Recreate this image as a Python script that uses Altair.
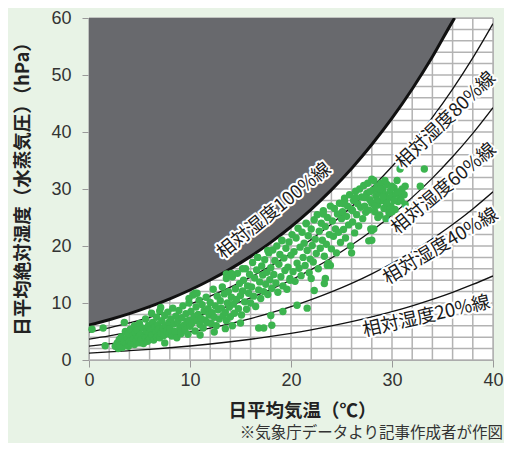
import altair as alt
import pandas as pd

# ---- curves (saturation vapour pressure and relative-humidity lines) ----
curve_t = [0, 2, 4, 6, 8, 10, 12, 14, 16, 18, 20, 22, 24, 26, 28, 30, 32, 34, 36, 38, 40]
rh80 = [4.89, 5.65, 6.50, 7.48, 8.58, 9.82, 11.22, 12.79, 14.55, 16.51, 18.70, 21.15, 23.87, 26.89, 30.24, 33.94, 38.04, 42.55, 47.53, 53.00, 59.01]
rh60 = [3.67, 4.24, 4.88, 5.61, 6.44, 7.37, 8.42, 9.59, 10.91, 12.38, 14.03, 15.86, 17.90, 20.17, 22.68, 25.45, 28.53, 31.91, 35.65, 39.75, 44.26]
rh40 = [2.44, 2.82, 3.25, 3.74, 4.29, 4.91, 5.61, 6.40, 7.27, 8.26, 9.35, 10.58, 11.94, 13.44, 15.12, 16.97, 19.02, 21.28, 23.76, 26.50, 29.50]
rh20 = [1.22, 1.41, 1.63, 1.87, 2.15, 2.46, 2.81, 3.20, 3.64, 4.13, 4.68, 5.29, 5.97, 6.72, 7.56, 8.48, 9.51, 10.64, 11.88, 13.25, 14.75]
sat_t = [0, 2, 4, 6, 8, 10, 12, 14, 16, 18, 20, 22, 24, 26, 28, 30, 32, 34, 36, 36.2]
sat_e = [6.11, 7.06, 8.13, 9.35, 10.73, 12.28, 14.03, 15.99, 18.18, 20.64, 23.38, 26.44, 29.84, 33.61, 37.80, 42.42, 47.55, 53.19, 59.41, 60.0]

obs_t = [
    0.3, 1.4, 1.6,
    2.6, 2.8, 2.9, 3.0, 3.1, 3.2, 3.3, 3.5, 3.5, 3.6, 3.7, 3.8, 3.9, 3.9,
    4.0, 4.1, 4.2, 4.3, 4.4, 4.5, 4.5, 4.6, 4.7, 4.8, 4.9, 5.0, 5.0, 5.1, 5.2, 5.3, 5.4, 5.5, 5.6, 5.6, 5.7, 5.8, 5.9, 5.9,
    6.0, 6.1, 6.2, 6.2, 6.3, 6.4, 6.5, 6.6, 6.7, 6.7, 6.8, 6.9, 7.0, 7.0, 7.1, 7.2, 7.3, 7.4, 7.5, 7.5, 7.6, 7.7, 7.8, 7.9, 7.9, 7.1,
    8.0, 8.1, 8.2, 8.3, 8.4, 8.5, 8.6, 8.7, 8.8, 8.9, 9.0, 9.1, 9.2, 9.3, 9.4, 9.5, 9.6, 9.7, 9.8, 9.9, 9.9, 9.9,
    10.0, 10.1, 10.2, 10.3, 10.4, 10.5, 10.6, 10.7, 10.8, 10.9, 11.0, 11.1, 11.2, 11.3, 11.4, 11.5, 11.6, 11.7, 11.8, 11.9, 10.7, 11.0, 10.5,
    12.0, 12.1, 12.2, 12.3, 12.4, 12.5, 12.6, 12.7, 12.8, 12.9, 13.0, 13.1, 13.2, 13.3, 13.4, 13.5, 13.6, 13.7, 13.8, 13.9, 12.4, 13.5, 13.6, 13.6,
    14.0, 14.1, 14.2, 14.3, 14.4, 14.5, 14.6, 14.7, 14.8, 14.9, 15.0, 15.1, 15.2, 15.3, 15.4, 15.5, 15.6, 15.7, 15.8, 15.9, 14.1, 15.2, 14.2, 15.0,
    16.0, 16.1, 16.2, 16.3, 16.4, 16.5, 16.6, 16.7, 16.8, 16.9, 17.0, 17.1, 17.2, 17.3, 17.4, 17.5, 17.6, 17.7, 17.8, 17.9, 16.7, 16.8, 17.3, 17.7,
    18.0, 18.1, 18.2, 18.3, 18.4, 18.5, 18.6, 18.7, 18.8, 18.9, 19.0, 19.1, 19.2, 19.3, 19.4, 19.5, 19.6, 19.7, 19.8, 19.9, 18.1, 19.1, 19.2, 18.0, 19.9,
    20.0, 20.1, 20.2, 20.3, 20.4, 20.5, 20.6, 20.7, 20.8, 20.9, 21.0, 21.1, 21.2, 21.3, 21.4, 21.5, 21.6, 21.7, 21.8, 21.9, 20.6, 21.6, 21.5, 22.0,
    22.0, 22.1, 22.2, 22.3, 22.4, 22.5, 22.6, 22.7, 22.8, 22.9, 23.0, 23.1, 23.2, 23.3, 23.4, 23.5, 23.6, 23.7, 23.8, 23.9, 23.2, 22.3, 23.9, 23.4, 23.6, 23.3,
    24.0, 24.1, 24.2, 24.3, 24.4, 24.5, 24.6, 24.7, 24.8, 24.9, 25.0, 25.1, 25.2, 25.3, 25.4, 25.5, 25.6, 25.7, 25.8, 25.9, 25.3, 25.2, 26.0,
    26.0, 26.1, 26.2, 26.3, 26.4, 26.5, 26.6, 26.7, 26.8, 26.9, 27.0, 27.1, 27.2, 27.3, 27.4, 27.5, 27.6, 27.7, 27.8, 27.9, 26.1, 26.4, 27.7, 28.0, 28.0,
    28.0, 28.1, 28.2, 28.3, 28.4, 28.5, 28.6, 28.7, 28.8, 28.9, 29.0, 29.1, 29.2, 29.3, 29.4, 29.5, 29.6, 29.7, 29.8, 29.9,
    30.0, 30.2, 30.3, 30.4, 30.6, 30.8, 31.0, 31.3, 28.2, 28.0, 30.5, 31.2,
    28.5, 29.0, 29.5, 30.0, 28.8, 29.3, 30.2, 30.6, 29.8, 28.3, 27.8, 27.3, 29.1, 30.9, 31.3, 30.0, 29.4, 28.6,
    30.8, 33.2, 32.8,
]
obs_e = [
    5.4, 5.6, 2.5,
    2.4, 3.0, 2.0, 3.6, 2.6, 4.1, 2.2, 6.6, 3.2, 5.0, 2.8, 3.9, 4.6, 2.4,
    3.3, 5.4, 2.9, 4.2, 3.7, 6.0, 2.7, 4.8, 3.4, 5.2, 4.0, 3.0, 6.4, 4.5, 3.6, 5.6, 2.9, 4.2, 7.2, 3.9, 5.0, 3.3, 6.1, 4.6,
    3.7, 5.3, 8.2, 4.4, 6.6, 3.5, 5.8, 4.9, 7.5, 4.0, 6.2, 5.4, 3.9, 8.6, 4.7, 6.9, 5.6, 4.3, 7.8, 3.0, 6.0, 5.1, 8.4, 4.6, 6.6, 9.2,
    5.5, 7.2, 4.2, 9.1, 6.3, 5.0, 7.7, 3.9, 6.8, 8.7, 5.7, 4.6, 7.4, 9.5, 6.1, 5.2, 8.1, 6.7, 4.5, 7.0, 10.0, 10.8,
    5.9, 8.5, 6.5, 11.4, 7.6, 5.1, 9.3, 6.9, 8.0, 10.5, 6.2, 7.3, 9.7, 5.6, 8.6, 7.0, 11.0, 6.6, 9.0, 7.9, 11.7, 4.4, 11.7,
    10.1, 6.4, 8.3, 12.4, 7.5, 9.5, 6.0, 11.2, 8.8, 7.2, 10.4, 9.1, 12.8, 7.8, 11.6, 8.4, 6.9, 10.0, 12.0, 9.3, 4.9, 5.5, 14.3, 15.1,
    7.6, 11.0, 14.6, 9.8, 8.2, 12.5, 10.6, 15.2, 9.0, 13.4, 11.3, 7.9, 12.1, 14.0, 10.2, 16.0, 8.9, 13.0, 11.7, 15.0, 15.2, 16.0, 6.0, 6.5,
    10.0, 12.8, 17.1, 11.2, 14.4, 9.4, 15.8, 18.0, 12.3, 13.7, 10.8, 16.5, 14.9, 12.0, 17.6, 13.3, 15.4, 11.5, 18.8, 14.1, 18.0, 5.6, 5.6, 19.2,
    16.2, 12.6, 19.3, 15.0, 17.4, 13.5, 20.0, 11.9, 16.8, 18.5, 14.6, 21.0, 13.0, 17.9, 15.7, 19.6, 12.4, 16.3, 20.7, 14.3, 6.1, 20.9, 8.5, 7.8, 14.0,
    18.4, 22.0, 15.5, 19.0, 13.8, 21.4, 17.0, 23.1, 16.1, 19.8, 14.8, 22.4, 18.0, 20.5, 16.6, 24.0, 19.2, 21.8, 15.3, 17.7, 9.6, 9.1, 23.9, 14.3,
    23.0, 20.1, 17.2, 24.6, 21.2, 18.7, 25.5, 16.0, 22.6, 19.6, 24.0, 21.0, 26.2, 18.2, 23.4, 20.3, 25.0, 17.0, 22.0, 27.0, 25.6, 12.2, 16.6, 14.3, 16.6, 13.4,
    19.5, 24.4, 21.7, 26.6, 23.0, 18.8, 25.6, 22.4, 27.5, 20.6, 24.8, 26.0, 22.9, 28.4, 21.4, 25.2, 27.0, 23.7, 29.0, 20.0, 27.9, 27.4, 18.8,
    26.4, 24.2, 28.0, 22.3, 29.6, 25.5, 27.4, 23.5, 30.0, 26.8, 28.6, 24.8, 30.6, 27.0, 25.9, 29.2, 31.0, 26.3, 28.1, 23.0, 26.2, 28.5, 20.9, 22.7, 31.7,
    27.5, 29.8, 31.5, 26.0, 28.8, 30.4, 27.2, 29.3, 25.4, 31.0, 28.0, 30.0, 26.6, 29.0, 27.6, 30.8, 28.4, 25.8, 29.6, 27.0,
    28.8, 30.2, 26.4, 29.1, 27.8, 28.5, 30.0, 27.3, 23.0, 21.0, 31.5, 29.0,
    28.0, 29.5, 27.5, 30.5, 30.0, 31.5, 28.0, 29.5, 26.5, 27.0, 29.5, 28.5, 28.6, 28.0, 30.5, 26.0, 24.8, 25.0,
    33.5, 33.5, 30.5,
]

grid_x = list(range(0, 41, 2))
grid_y = list(range(0, 61, 2))

label_text = ["相対湿度100%線", "相対湿度80%線", "相対湿度60%線", "相対湿度40%線", "相対湿度20%線"]
label_t = [18.3, 35.3, 35.1, 34.8, 33.4]
label_e = [26.2, 42.1, 30.1, 20.0, 7.7]
label_angle = [321, 316, 320, 329, 347]

# ---- tables ----
sat_df = pd.DataFrame({"T": sat_t, "E": sat_e})
rh_df = pd.concat([
    pd.DataFrame({"T": curve_t, "E": v, "s": name})
    for name, v in [("80", rh80), ("60", rh60), ("40", rh40), ("20", rh20)]
])
obs_df = pd.DataFrame({"T": obs_t, "E": obs_e})
gx_df = pd.DataFrame({"T": grid_x})
gy_df = pd.DataFrame({"E": grid_y})
lab_df = pd.DataFrame({"T": label_t, "E": label_e, "txt": label_text, "ang": label_angle})

CJK = "Noto Sans CJK JP"
xs = alt.Scale(domain=[0, 40], nice=False, zero=False)
ys = alt.Scale(domain=[0, 60], nice=False, zero=False)

xaxis = alt.Axis(
    values=[0, 10, 20, 30, 40], grid=False, title="日平均気温（℃）",
    titleFont=CJK, titleFontSize=18.5, titleFontWeight="bold", titleColor="#222222",
    titleX=213, titleY=50, titleBaseline="middle", titleAlign="center",
    labelFont="Liberation Sans", labelFontSize=18, labelColor="#333333",
    labelPadding=4, tickSize=7, tickColor="#999999", domainColor="#999999",
    labelFlush=False,
)
yaxis = alt.Axis(
    values=[0, 10, 20, 30, 40, 50, 60], grid=False, title="日平均絶対湿度（水蒸気圧）（hPa）",
    titleFont=CJK, titleFontSize=18.5, titleFontWeight="bold", titleColor="#222222",
    titleAngle=270, titleX=-67, titleY=166, titleBaseline="middle", titleAlign="center",
    labelFont="Liberation Sans", labelFontSize=18, labelColor="#333333",
    labelPadding=11, tickSize=7, tickColor="#999999", domainColor="#999999",
    labelFlush=False,
)

X = lambda: alt.X("T:Q", scale=xs, axis=xaxis)
Y = lambda: alt.Y("E:Q", scale=ys, axis=yaxis)

grid_v = alt.Chart(gx_df).mark_rule(color="#b3b3b3", strokeWidth=1.5).encode(x=X())
grid_h = alt.Chart(gy_df).mark_rule(color="#b3b3b3", strokeWidth=1.5).encode(y=Y())

dark = alt.Chart(sat_df).mark_area(color="#68696d", interpolate="monotone", clip=True).encode(
    x=X(), y=Y(), y2=alt.datum(60)
)
sat_line = alt.Chart(sat_df).mark_line(color="#111111", strokeWidth=3, interpolate="monotone", clip=True).encode(
    x=X(), y=Y()
)
rh_lines = alt.Chart(rh_df).mark_line(color="#111111", strokeWidth=1.3, interpolate="monotone", clip=True).encode(
    x=X(), y=Y(), detail="s:N"
)
points = alt.Chart(obs_df).mark_circle(color="#3cb44f", opacity=1, size=55).encode(x=X(), y=Y())

halo = alt.Chart(lab_df).mark_text(
    font=CJK, fontSize=18.5, fill="white", stroke="white", strokeWidth=4, strokeJoin="round",
    align="center", baseline="middle"
).encode(x=X(), y=Y(), text="txt:N", angle=alt.Angle("ang:Q", scale=None))
labels = alt.Chart(lab_df).mark_text(
    font=CJK, fontSize=18.5, fill="#1a1a1a", align="center", baseline="middle"
).encode(x=X(), y=Y(), text="txt:N", angle=alt.Angle("ang:Q", scale=None))

note = alt.Chart(pd.DataFrame({"t": ["※気象庁データより記事作成者が作図"]})).mark_text(
    font=CJK, fontSize=15.5, color="#333333", align="right", baseline="middle"
).encode(x=alt.value(414), y=alt.value(415), text="t:N")

chart = alt.layer(
    grid_v, grid_h, dark, rh_lines, sat_line, points, halo, labels, note
).properties(
    width=404, height=342,
    padding={"left": 81, "top": 10, "right": 11, "bottom": 83},
    autosize=alt.AutoSizeParams(type="none"),
    background="#e8f3e6",
).configure_view(fill="white", stroke="#b3b3b3")

chart.save("out.html", embed_options={"renderer": "svg", "actions": False})
